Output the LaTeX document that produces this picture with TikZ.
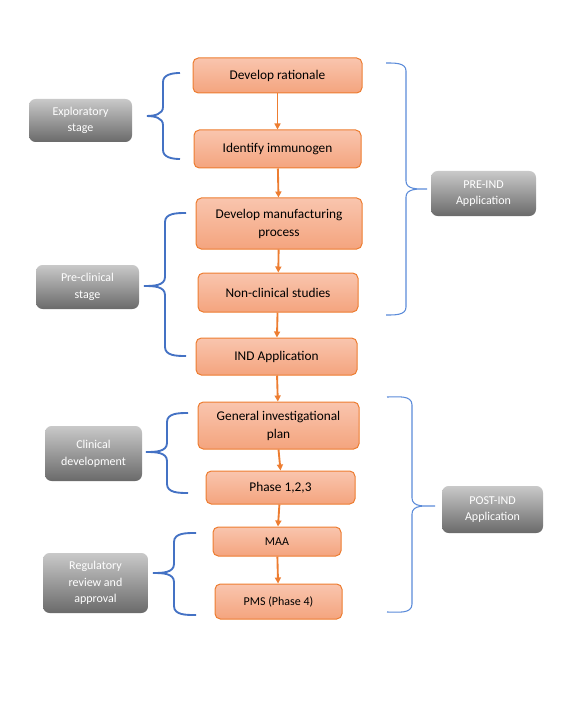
\documentclass[tikz,border=0pt]{standalone}
\usepackage{fontspec}
\setmainfont{Carlito}
\usepackage{xcolor}
\usetikzlibrary{arrows.meta,positioning}

\definecolor{stepline}{HTML}{ED7D31}
\definecolor{steptop}{HTML}{F9C5AE}
\definecolor{stepbot}{HTML}{F4A47E}
\definecolor{grouptop}{HTML}{C9C9C9}
\definecolor{groupbot}{HTML}{6A6A6A}
\definecolor{bracecol}{HTML}{4472C4}
\definecolor{appbracecol}{HTML}{5B8BD9}

\begin{document}
\begin{tikzpicture}[
  x=0.75pt, y=-0.75pt,
  stepbox/.style={draw=stepline, line width=0.75pt, rounded corners=4pt,
                  top color=steptop, bottom color=stepbot, align=center,
                  inner sep=2pt, font=\fontsize{10}{13.5}\selectfont},
  smallstep/.style={stepbox, font=\fontsize{9}{11}\selectfont},
  groupbox/.style={rounded corners=5pt, top color=grouptop, bottom color=groupbot,
                   text=white, align=center, inner sep=2pt,
                   font=\fontsize{9}{12.5}\selectfont},
  flow/.style={->, stepline, line width=1.4pt},
  stagebrace/.style={draw=bracecol, line width=1.4pt},
  appbrace/.style={draw=appbracecol, line width=0.8pt},
  >={Triangle[length=4.5pt,width=4.5pt]}
]
\useasboundingbox (0,0) rectangle (562,702);

% flow steps
\node[stepbox, minimum width=126.75pt, minimum height=26.25pt] (rat) at (277.5,75.5) {Develop rationale};
\node[stepbox, minimum width=125.25pt, minimum height=28.5pt] (imm) at (277.5,149) {Identify immunogen};
\node[stepbox, minimum width=124.5pt, minimum height=38.25pt] (mfg) at (279,223.5) {Develop manufacturing\\process};
\node[stepbox, minimum width=120pt, minimum height=29.25pt] (ncs) at (278,292.5) {Non-clinical studies};
\node[stepbox, minimum width=120.75pt, minimum height=27.75pt] (ind) at (276.5,356.5) {IND Application};
\node[stepbox, minimum width=120.75pt, minimum height=35.25pt] (gip) at (278.5,425.5) {General investigational\\plan};
\node[stepbox, minimum width=111.75pt, minimum height=24.75pt] (ph) at (280.5,487.5) {Phase 1,2,3};
\node[smallstep, minimum width=96pt, minimum height=21.75pt] (maa) at (277,541.5) {MAA};
\node[smallstep, minimum width=95.25pt, minimum height=26.25pt] (pms) at (278.5,601.5) {PMS (Phase 4)};

\draw[flow] (rat) -- (imm);
\draw[flow] (imm) -- (mfg);
\draw[flow] (mfg) -- (ncs);
\draw[flow] (ncs) -- (ind);
\draw[flow] (ind) -- (gip);
\draw[flow] (gip.south) -- (ph.north);
\draw[flow] (ph) -- (maa);
\draw[flow] (maa) -- (pms);

% stage labels
\node[groupbox, minimum width=77.25pt, minimum height=32.25pt] (expl) at (80.5,120.5) {Exploratory\\stage};
\node[groupbox, minimum width=77.25pt, minimum height=33pt] (precl) at (87.5,287) {Pre-clinical\\stage};
\node[groupbox, minimum width=72.75pt, minimum height=41.25pt] (clin) at (93.5,453.5) {Clinical\\development};
\node[groupbox, minimum width=78.75pt, minimum height=45pt] (reg) at (95.5,583) {Regulatory\\review and\\approval};
\node[groupbox, minimum width=78.75pt, minimum height=33.75pt] (preind) at (483.5,193.5) {PRE-IND\\Application};
\node[groupbox, minimum width=75.75pt, minimum height=35.25pt] (postind) at (492.5,509.5) {POST-IND\\Application};

% left braces
\draw[stagebrace] (180,73) to[out=180,in=90] (163,82) -- (163,107) to[out=-90,in=0] (147,116)
  to[out=0,in=90] (163,125) -- (163,150) to[out=-90,in=180] (180,159);
\draw[stagebrace] (186,213) to[out=180,in=90] (165,222) -- (165,277) to[out=-90,in=0] (144,286)
  to[out=0,in=90] (165,295) -- (165,347) to[out=-90,in=180] (186,356);
\draw[stagebrace] (188,413) to[out=180,in=90] (167,422) -- (167,443) to[out=-90,in=0] (146,452)
  to[out=0,in=90] (167,461) -- (167,484) to[out=-90,in=180] (188,493);
\draw[stagebrace] (196,533) to[out=180,in=90] (174,542) -- (174,564) to[out=-90,in=0] (153,573)
  to[out=0,in=90] (174,582) -- (174,606) to[out=-90,in=180] (196,615);

% right braces
\draw[appbrace] (386,63) to[out=0,in=90] (406,71) -- (406,181) to[out=-90,in=180] (427,189)
  to[out=180,in=90] (406,197) -- (406,307) to[out=-90,in=0] (386,315);
\draw[appbrace] (387,397) to[out=0,in=90] (412,405) -- (412,498) to[out=-90,in=180] (435,506)
  to[out=180,in=90] (412,514) -- (412,604) to[out=-90,in=0] (387,612);
\end{tikzpicture}
\end{document}
